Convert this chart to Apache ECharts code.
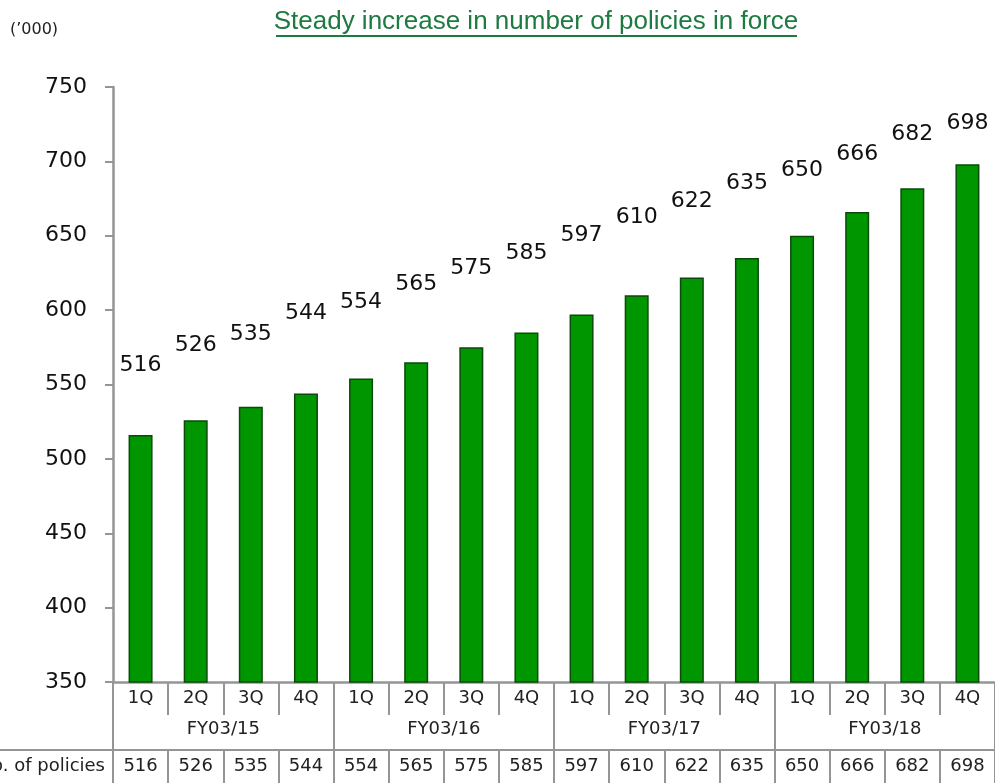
<!DOCTYPE html>
<html>
<head>
<meta charset="utf-8">
<script src="https://cdn.jsdelivr.net/npm/echarts@6/dist/echarts.min.js"></script>
<style>html,body{margin:0;padding:0;background:#fff}#c{width:995px;height:783px}</style>
</head>
<body>
<div id="c"></div>
<script>
// ---- data ----
const quarters = ['1Q','2Q','3Q','4Q','1Q','2Q','3Q','4Q','1Q','2Q','3Q','4Q','1Q','2Q','3Q','4Q'];
const fiscalYears = ['FY03/15','FY03/16','FY03/17','FY03/18'];
const policies = [516,526,535,544,554,565,575,585,597,610,622,635,650,666,682,698];
const yTicks = { min: 350, max: 750, step: 50 };
const titleText = 'Steady increase in number of policies in force';
const unitText = '(\u2019000)';
const rowLabel = 'No. of policies';

// ---- style (label lift above bar top, px) ----
const labelGap = [59,64,62,69,65,67,68,68,68,67,65,64,54,47,43,30];

const GRAY = '#959595';
const FONT = 'DejaVu Sans';
const chart = echarts.init(document.getElementById('c'), null, {renderer: 'canvas'});

const barData = policies.map((v, i) => ({
  value: v,
  label: { distance: labelGap[i] }
}));

chart.setOption({
  animation: false,
  backgroundColor: '#fff',
  graphic: [
    { type: 'text', z: 10,
      style: { text: titleText, x: 536, y: 22, align: 'center', verticalAlign: 'middle',
        fill: '#1d7a40', font: '26px "Liberation Sans"' } },
    { type: 'rect', shape: { x: 276, y: 35, width: 521, height: 2 }, style: { fill: '#1d7a40' } },
    { type: 'text',
      style: { text: unitText, x: 10, y: 30, align: 'left', verticalAlign: 'middle',
        fill: '#222', font: '16px "DejaVu Sans"' } },
    { type: 'line', shape: { x1: 0, y1: 750, x2: 113, y2: 750 }, style: { stroke: GRAY, lineWidth: 2 } },
    { type: 'text', style: { text: rowLabel, x: 105, y: 766, align: 'right', verticalAlign: 'middle',
      fill: '#222', font: '18px "DejaVu Sans"' } }
  ],
  grid: { left: 113, top: 87, right: -3, bottom: 101, containLabel: false },
  yAxis: {
    type: 'value', min: yTicks.min, max: yTicks.max, interval: yTicks.step,
    axisLine: { show: true, lineStyle: { color: GRAY, width: 2.5 } },
    axisTick: { show: true, length: 8, lineStyle: { color: GRAY, width: 2 } },
    splitLine: { show: false },
    axisLabel: { margin: 26, fontFamily: FONT, fontSize: 22, color: '#111' }
  },
  xAxis: [
    { type: 'category', data: quarters, position: 'bottom',
      axisLine: { show: true, onZero: false, lineStyle: { color: GRAY, width: 2.5 } },
      axisTick: { show: true, interval: 0, length: 33, lineStyle: { color: GRAY, width: 2 } },
      axisLabel: { interval: 0, margin: 7, fontFamily: FONT, fontSize: 18, color: '#222' } },
    { type: 'category', data: fiscalYears, position: 'bottom', gridIndex: 0,
      axisLine: { show: false, onZero: false },
      axisTick: { show: true, interval: 0, length: 102, lineStyle: { color: GRAY, width: 2 } },
      axisLabel: { interval: 0, margin: 38, fontFamily: FONT, fontSize: 18, color: '#222' } },
    { type: 'category', data: policies.map(String), position: 'bottom', offset: 68, gridIndex: 0,
      axisLine: { show: true, onZero: false, lineStyle: { color: GRAY, width: 2 } },
      axisTick: { show: true, interval: 0, length: 34, lineStyle: { color: GRAY, width: 2 } },
      axisLabel: { interval: 0, margin: 7, fontFamily: FONT, fontSize: 18, color: '#222' } }
  ],
  series: [{
    type: 'bar', xAxisIndex: 0, yAxisIndex: 0,
    data: barData, barWidth: 24,
    itemStyle: { color: '#009600', borderColor: '#0b4a0b', borderWidth: 1.5 },
    label: { show: true, position: 'top', fontFamily: FONT, fontSize: 22, color: '#111' }
  }]
});
</script>
</body>
</html>
